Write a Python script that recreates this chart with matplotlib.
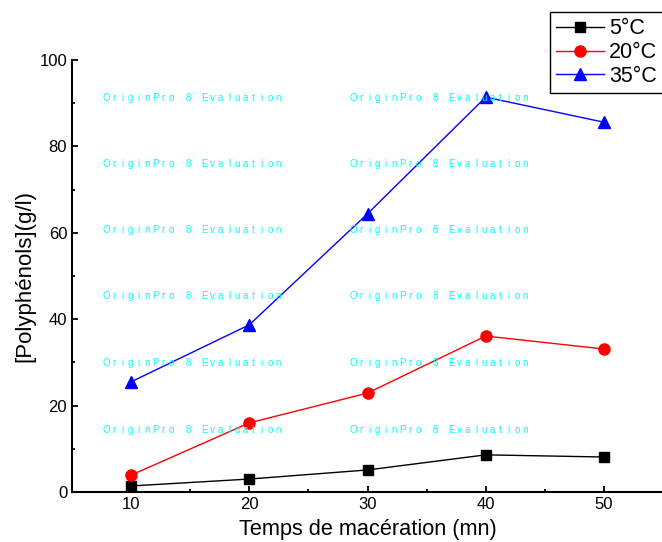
import numpy as np
import matplotlib
matplotlib.use("Agg")
from matplotlib import pyplot as plt

# data
temps = [10, 20, 30, 40, 50]
poly_5 = [1.4, 3.0, 5.1, 8.6, 8.1]
poly_20 = [3.9, 16.0, 22.9, 36.1, 33.1]
poly_35 = [25.5, 38.7, 64.4, 91.4, 85.6]
labels = ["5°C", "20°C", "35°C"]

plt.rcParams["font.family"] = ["Liberation Sans", "DejaVu Sans"]

fig = plt.figure(figsize=(6.62, 5.42), dpi=100)
ax = fig.add_axes([72/662, 50/542, 591/662, 432/542])

# watermark, one letter per slot
wm = "OriginPro 8 Evaluation"
for yy in [98, 164, 230, 296, 363, 430]:
    for xx in [106, 353]:
        for k, ch in enumerate(wm):
            fig.text((xx + k * 8.2) / 662, 1 - yy/542, ch, color="cyan",
                     fontsize=7, ha="center", va="center")

ax.plot(temps, poly_5, "-s", color="black", lw=1, ms=7, label=labels[0])
ax.plot(temps, poly_20, "-o", color="red", lw=1, ms=8, label=labels[1])
ax.plot(temps, poly_35, "-^", color="blue", lw=1, ms=8, label=labels[2])

ax.set_xlim(5, 55)
ax.set_ylim(0, 100)
ax.set_xticks([10, 20, 30, 40, 50])
ax.set_xticks([15, 25, 35, 45], minor=True)
ax.set_yticks([0, 20, 40, 60, 80, 100])
ax.set_yticks([10, 30, 50, 70, 90], minor=True)
ax.tick_params(which="both", direction="in", labelsize=12, width=1.3)
ax.tick_params(which="major", length=4)
ax.tick_params(which="minor", length=2.5)
ax.spines["top"].set_visible(False)
ax.spines["right"].set_visible(False)
ax.spines["left"].set_linewidth(1.5)
ax.spines["bottom"].set_linewidth(1.5)
ax.set_xlabel("Temps de macération (mn)", fontsize=15.7, labelpad=5)
ax.set_ylabel("[Polyphénols](g/l)", fontsize=16, labelpad=3)

leg = ax.legend(loc="upper left", bbox_to_anchor=(550/662, 1 - 12/542),
                bbox_transform=fig.transFigure, fontsize=15.5, fancybox=False,
                edgecolor="black", framealpha=1, handlelength=2.2,
                borderpad=0.3, labelspacing=0.12, handletextpad=0.25,
                borderaxespad=0)
leg.get_frame().set_linewidth(1)

plt.savefig("out.png", dpi=100)
